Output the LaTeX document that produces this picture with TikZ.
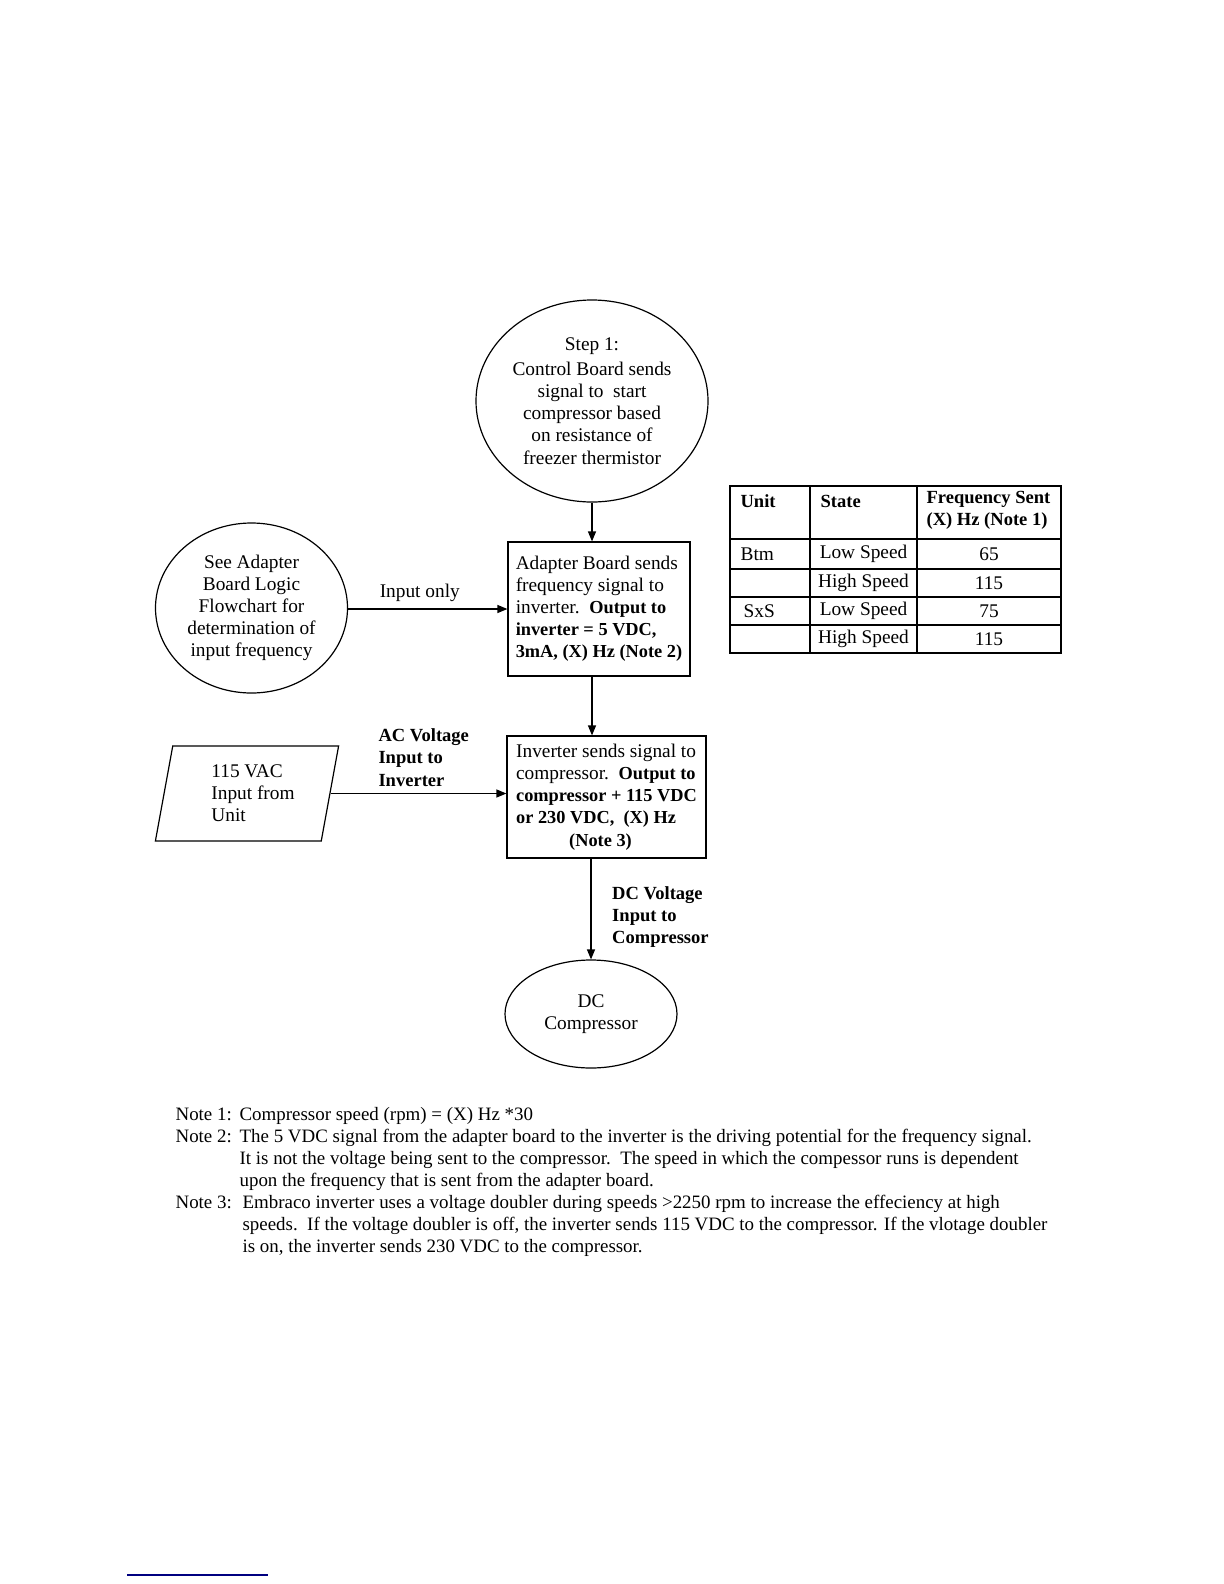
\documentclass[tikz,border=0pt]{standalone}
\usepackage{fontspec}
\setmainfont{Liberation Serif}
\usetikzlibrary{shapes,arrows.meta,positioning,calc,fit}
\definecolor{rulenavy}{RGB}{0,0,128}
\newcommand\hot[1]{{\fontsize{9.2}{11.1}\selectfont\bfseries #1}}

\begin{document}
\begin{tikzpicture}[x=0.5bp, y=-0.5bp, >={Triangle[length=5bp,width=4bp]}, line width=0.6bp, auto,
    font=\fontsize{9.7}{11.1}\selectfont,
    oval/.style={draw, ellipse, inner sep=0pt, align=center},
    stepbox/.style={draw, rectangle, inner sep=0pt, align=left},
    boldlabel/.style={align=left, font=\fontsize{9.3}{11.1}\selectfont\bfseries},
    cell/.style={inner sep=0pt}]
    % page
    \fill[white] (0,0) rectangle (1224,1584);

    % flowchart
    \node[oval, minimum width=116bp, minimum height=101bp] (start) at (592,401)
        {Step 1:\\[1.5bp]Control Board sends\\signal to\ \ start\\compressor based\\on resistance of\\freezer thermistor};
    \node[oval, minimum width=96bp, minimum height=85bp] (logic) at (251.5,608)
        {See Adapter\\Board Logic\\Flowchart for\\determination of\\input frequency};
    \node[stepbox, minimum width=91bp, minimum height=67bp] (adapter) at (599,609)
        {Adapter Board sends\\frequency signal to\\inverter.\ \ \hot{Output to}\\\hot{inverter = 5 VDC,}\\\hot{3mA, (X) Hz (Note 2)}};
    \node[draw, trapezium, trapezium left angle=79, trapezium right angle=101, trapezium stretches=true,
        minimum width=92bp, minimum height=47.5bp, inner sep=0pt, align=left] (mains) at (247,793.5)
        {\hspace*{6bp}115 VAC\\\hspace*{6bp}Input from\\\hspace*{6bp}Unit};
    \node[stepbox, minimum width=99.5bp, minimum height=61bp] (inverter) at (606.5,797)
        {Inverter sends signal to\\compressor.\ \ \hot{Output to}\\\hot{compressor + 115 VDC}\\\hot{or 230 VDC,\ \ (X) Hz}\\\hspace*{26.5bp}\hot{(Note 3)}};
    \node[oval, minimum width=86bp, minimum height=54bp] (compressor) at (591,1014)
        {DC\\Compressor};

    \draw[->] (start.south) -- (start.south |- adapter.north);
    \draw[->] (logic.east |- adapter.west) -- node[above, pos=0.45] {Input only} (adapter.west);
    \draw[->] (start.south |- adapter.south) -- (start.south |- inverter.north);
    \draw[->] (mains.east) -- node[above, pos=0.53, boldlabel] {AC Voltage\\Input to\\Inverter} (mains.east -| inverter.west);
    \draw[->] (compressor.north |- inverter.south) -- node[right=7bp, pos=0.58, boldlabel] {DC Voltage\\Input to\\Compressor} (compressor.north);

    % frequency table
    \draw (730,486) rectangle (1061,653);
    \foreach \y in {539,569,597,625}
        \draw (730,\y) -- (1061,\y);
    \foreach \x in {810,917}
        \draw (\x,486) -- (\x,653);
    \node[cell, anchor=west, boldlabel] (hunit) at (740,501) {Unit};
    \node[cell, anchor=west, boldlabel] (hstate) at (820,501) {State};
    \node[cell, anchor=north west, boldlabel] (hfreq) at (926,491) {Frequency Sent\\(X) Hz (Note 1)};
    \node[cell, anchor=west] (btm) at (740,554) {Btm};
    \node[cell, anchor=west] (sxs) at (743,611) {SxS};
    \foreach \y/\st/\hz [count=\i] in {554/Low Speed/65, 583/High Speed/115, 611/Low Speed/75, 639/High Speed/115} {
        \node[cell] (state\i) at (863.5,\y) {\st};
        \node[cell] (freq\i) at (989,\y) {\hz};
    }

    % notes
    \node[anchor=north west, inner sep=0pt, align=left, font=\fontsize{9.5}{11}\selectfont] (notes) at (175,1107)
        {\makebox[32bp][l]{Note 1:}Compressor speed (rpm) = (X) Hz *30\\
         \makebox[32bp][l]{Note 2:}The 5 VDC signal from the adapter board to the inverter is the driving potential for the frequency signal.\\
         \hspace*{32bp}It is not the voltage being sent to the compressor.\ \ The speed in which the compessor runs is dependent\\
         \hspace*{32bp}upon the frequency that is sent from the adapter board.\\
         \makebox[33.5bp][l]{Note 3:}Embraco inverter uses a voltage doubler during speeds >2250 rpm to increase the effeciency at high\\
         \hspace*{33.5bp}speeds.\ \ If the voltage doubler is off, the inverter sends 115 VDC to the compressor. If the vlotage doubler\\
         \hspace*{33.5bp}is on, the inverter sends 230 VDC to the compressor.};

    % footnote rule
    \draw[rulenavy, line width=1bp] (127,1575) -- (268,1575);
\end{tikzpicture}
\end{document}
